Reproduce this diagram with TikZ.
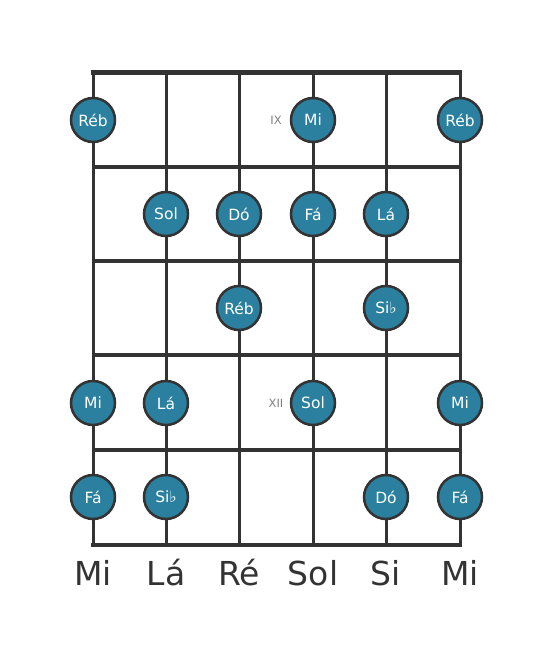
\documentclass[tikz,border=0pt]{standalone}
\usepackage{fontspec}
\setmainfont{DejaVu Sans}
\definecolor{notefill}{RGB}{42,128,158}
\definecolor{boardline}{RGB}{51,51,51}
\begin{document}
\begin{tikzpicture}[x=1pt, y=-1pt,
    nota/.style={circle, draw=boardline, line width=2.5pt, fill=notefill,
      minimum size=44pt, inner sep=0pt, text=white, font=\fontsize{15.5}{15.5}\selectfont},
    casa/.style={text=gray, font=\fontsize{11.5}{11.5}\selectfont},
    corda/.style={font=\fontsize{33}{33}\selectfont, text=boardline}]
  \useasboundingbox (0,0) rectangle (553,656);
  % strings
  \foreach \x in {93,166,239,313,386,460}
    \draw[boardline, line width=3pt] (\x,72) -- (\x,545);
  % frets
  \draw[boardline, line width=5pt] (91,72) -- (462,72);
  \foreach \y in {167,261,355,450}
    \draw[boardline, line width=4.5pt] (93,\y) -- (460,\y);
  \draw[boardline, line width=4pt] (91,545) -- (462,545);
  % fret marks
  \node[casa] (ix) at (276,120) {IX};
  \node[casa] (xii) at (276,403) {XII};
  % notes
  \node[nota] (reb1) at (93,120) {Réb};
  \node[nota] (mi1) at (313,120) {Mi};
  \node[nota] (reb2) at (460,120) {Réb};
  \node[nota] (sol1) at (166,214) {Sol};
  \node[nota] (do1) at (239,214) {Dó};
  \node[nota] (fa1) at (313,214) {Fá};
  \node[nota] (la1) at (386,214) {Lá};
  \node[nota] (reb3) at (239,308) {Réb};
  \node[nota] (sib1) at (386,308) {Si♭};
  \node[nota] (mi2) at (93,403) {Mi};
  \node[nota] (la2) at (166,403) {Lá};
  \node[nota] (sol2) at (313,403) {Sol};
  \node[nota] (mi3) at (460,403) {Mi};
  \node[nota] (fa2) at (93,497) {Fá};
  \node[nota] (sib2) at (166,497) {Si♭};
  \node[nota] (do2) at (386,497) {Dó};
  \node[nota] (fa3) at (460,497) {Fá};
  % tuning
  \node[corda] (c1) at (93,573) {Mi};
  \node[corda] (c2) at (166,573) {Lá};
  \node[corda] (c3) at (239,573) {Ré};
  \node[corda] (c4) at (313,573) {Sol};
  \node[corda] (c5) at (386,573) {Si};
  \node[corda] (c6) at (460,573) {Mi};
\end{tikzpicture}
\end{document}
